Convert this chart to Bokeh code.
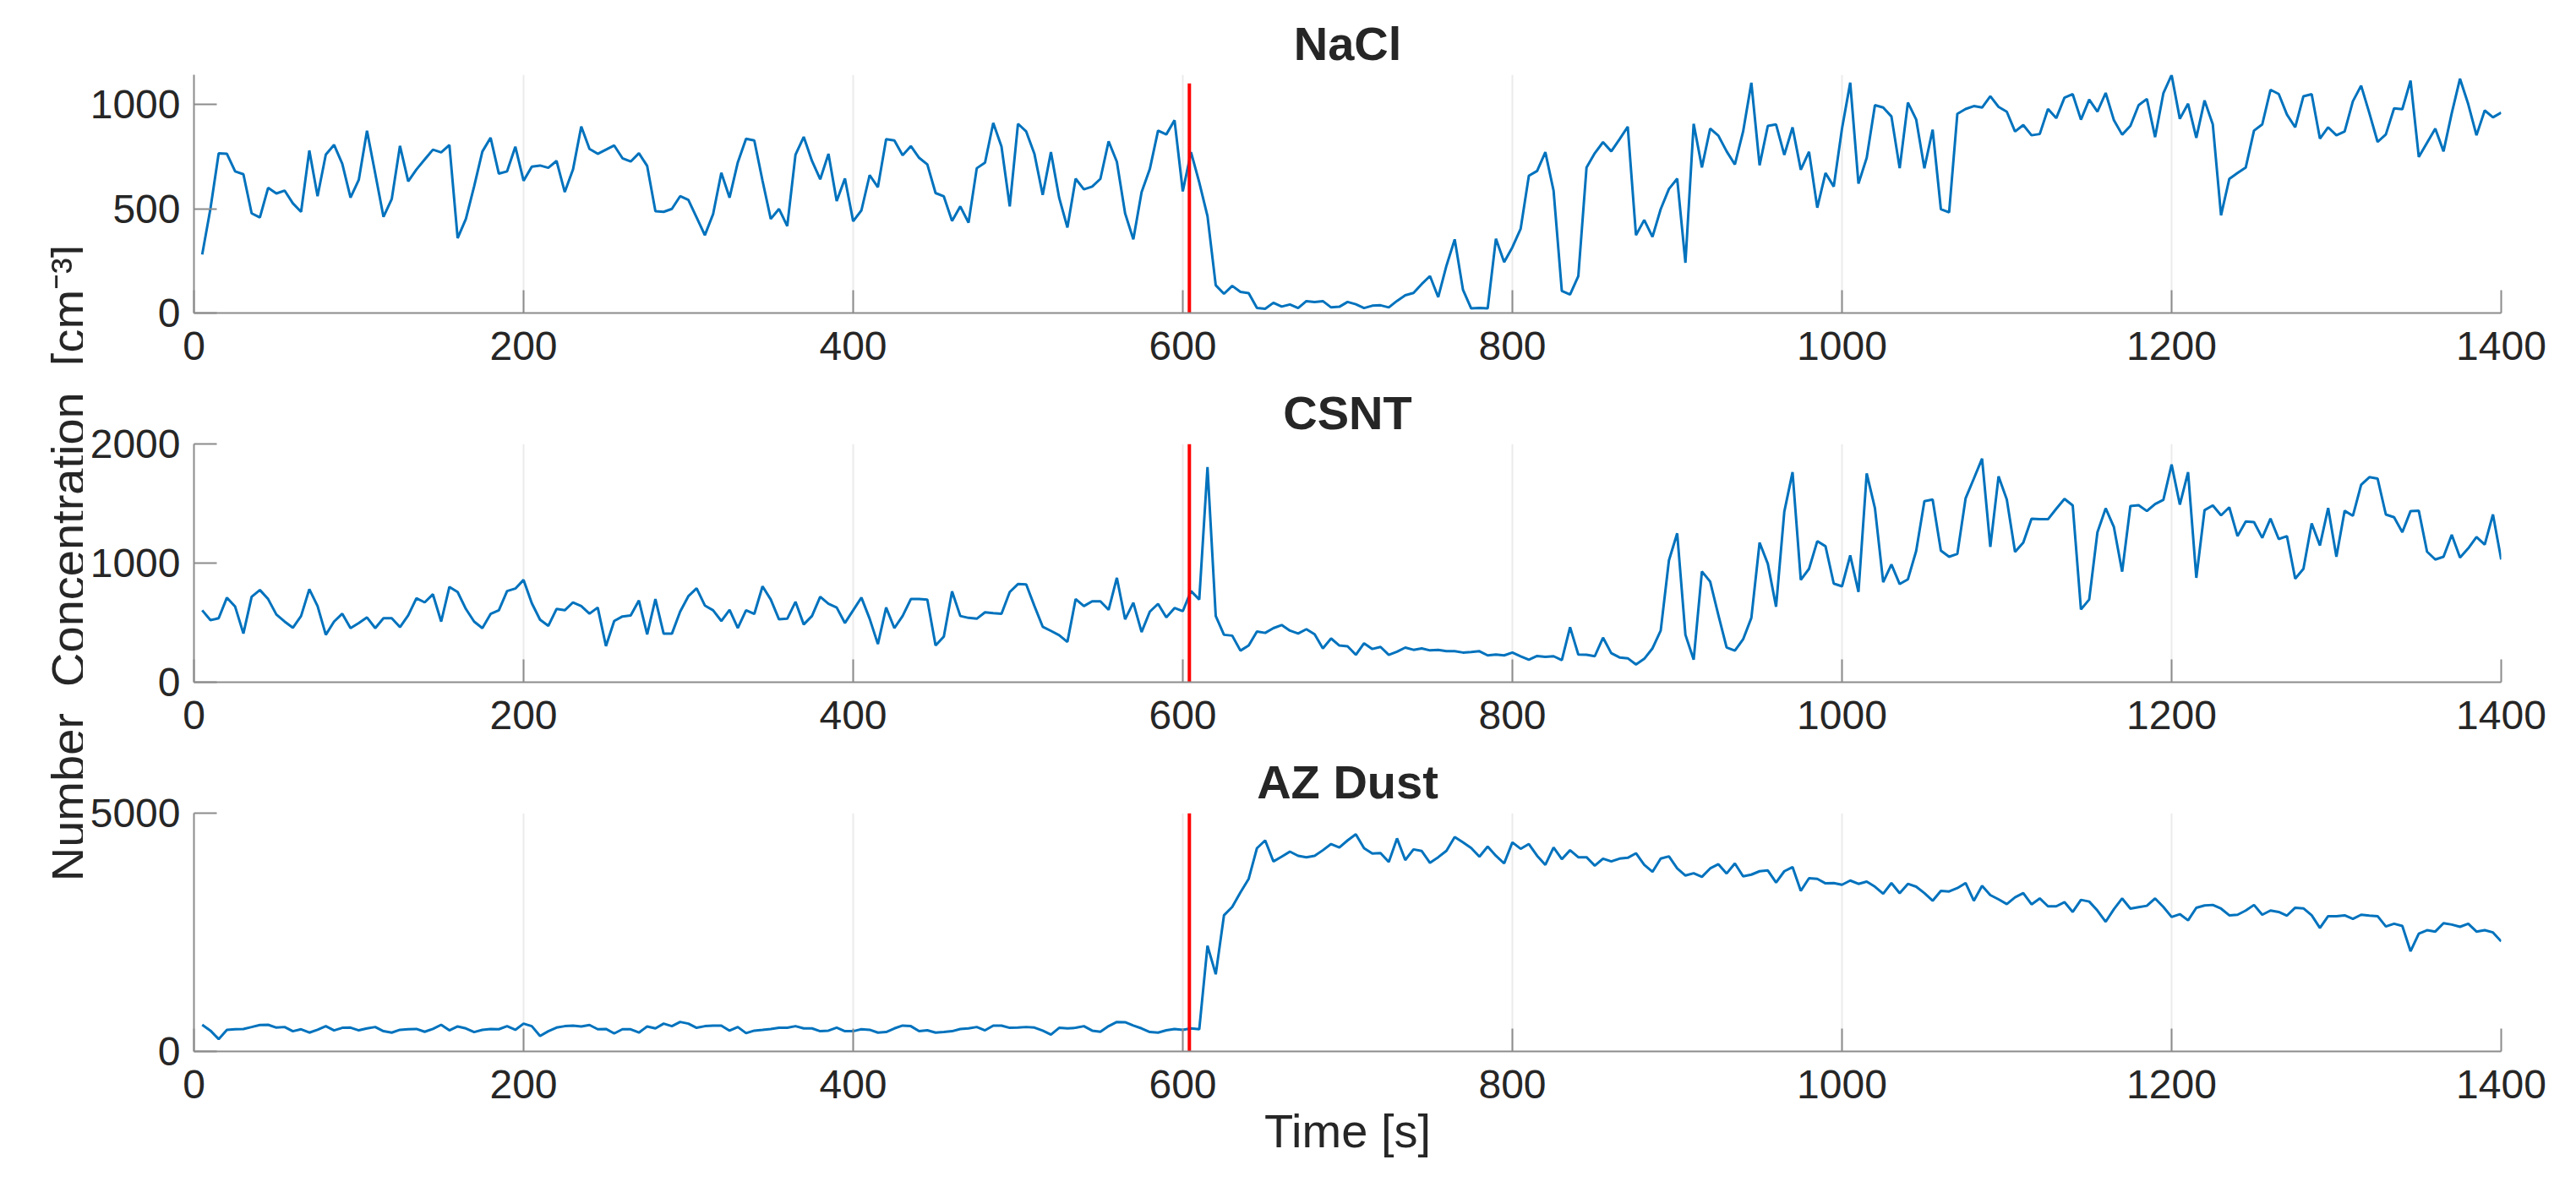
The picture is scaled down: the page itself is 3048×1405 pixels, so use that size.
import math

from bokeh.plotting import figure
from bokeh.layouts import column, row
from bokeh.models import FixedTicker, Range1d, Label
from bokeh.embed import file_html
from bokeh.resources import INLINE

# sampling times [s], one reading every 5 s
time = list(range(5, 1405, 5))

nacl = [
    280, 500, 765, 763, 679, 665, 478, 458, 600, 573,
    587, 526, 485, 779, 560, 759, 806, 715, 553, 638,
    874, 668, 461, 546, 801, 631, 688, 736, 783, 770,
    805, 359, 451, 607, 774, 840, 668, 679, 797, 634,
    702, 707, 696, 729, 580, 688, 894, 787, 763, 783,
    803, 742, 726, 766, 705, 488, 485, 499, 560, 542,
    458, 373, 474, 672, 553, 722, 835, 827, 634, 451,
    499, 417, 759, 844, 729, 641, 763, 537, 645, 440,
    492, 661, 603, 833, 827, 756, 800, 744, 712, 575,
    559, 441, 511, 433, 694, 721, 911, 798, 511, 907,
    870, 762, 566, 771, 552, 410, 644, 593, 606, 643,
    823, 725, 478, 353, 579, 690, 874, 856, 924, 583,
    771, 626, 464, 133, 92, 130, 101, 95, 24, 20,
    49, 31, 41, 24, 57, 53, 57, 27, 30, 53,
    42, 24, 35, 37, 27, 58, 85, 96, 139, 177,
    76, 227, 353, 112, 22, 24, 22, 356, 244, 315,
    403, 658, 681, 771, 586, 106, 89, 177, 698, 766,
    819, 775, 833, 893, 373, 446, 365, 498, 595, 644,
    241, 907, 698, 884, 850, 775, 712, 870, 1104, 708,
    897, 904, 758, 890, 687, 773, 505, 671, 606, 884,
    1104, 620, 744, 996, 985, 942, 694, 1009, 928, 694,
    879, 498, 482, 955, 978, 992, 985, 1039, 988, 965,
    870, 901, 852, 858, 978, 934, 1032, 1049, 927, 1023,
    965, 1055, 924, 855, 897, 996, 1026, 843, 1053, 1141,
    931, 1003, 840, 1019, 904, 468, 643, 671, 698, 874,
    904, 1070, 1050, 951, 890, 1039, 1049, 836, 890, 852,
    870, 1015, 1090, 958, 820, 856, 981, 977, 1114, 748,
    816, 884, 775, 958, 1123, 1001, 852, 971, 938, 961,
]

csnt = [
    604, 521, 537, 710, 634, 409, 717, 774, 698, 568,
    509, 457, 556, 781, 639, 398, 509, 575, 454, 497,
    544, 454, 537, 537, 462, 561, 705, 670, 738, 509,
    800, 757, 615, 509, 454, 573, 604, 765, 786, 859,
    663, 525, 473, 615, 604, 670, 639, 575, 627, 303,
    514, 552, 561, 686, 402, 698, 407, 407, 592, 722,
    788, 644, 604, 514, 608, 454, 604, 573, 805, 694,
    528, 533, 675, 485, 556, 717, 658, 627, 497, 604,
    710, 533, 320, 627, 454, 556, 698, 698, 694, 308,
    383, 762, 556, 540, 533, 587, 580, 575, 757, 824,
    821, 639, 466, 431, 395, 338, 698, 639, 679, 679,
    608, 876, 528, 667, 421, 592, 658, 544, 623, 596,
    765, 694, 1806, 556, 398, 391, 265, 308, 426, 414,
    454, 480, 433, 409, 445, 402, 284, 367, 308, 301,
    230, 327, 279, 296, 230, 256, 291, 272, 284, 267,
    272, 260, 260, 249, 253, 260, 225, 232, 225, 249,
    218, 189, 220, 213, 218, 185, 462, 232, 230, 218,
    374, 244, 208, 201, 149, 196, 284, 433, 1023, 1250,
    398, 189, 930, 845, 563, 291, 265, 360, 540, 1172,
    994, 634, 1432, 1763, 859, 952, 1184, 1141, 828, 805,
    1065, 757, 1752, 1460, 840, 989, 824, 864, 1101, 1520,
    1534, 1105, 1053, 1077, 1543, 1709, 1877, 1136, 1728, 1534,
    1094, 1172, 1373, 1368, 1368, 1456, 1539, 1484, 611, 694,
    1259, 1460, 1302, 928, 1479, 1486, 1437, 1496, 1531, 1827,
    1491, 1763, 876, 1444, 1484, 1401, 1468, 1226, 1349, 1344,
    1212, 1373, 1202, 1226, 869, 952, 1333, 1148, 1463, 1053,
    1439, 1397, 1657, 1721, 1709, 1408, 1385, 1259, 1437, 1439,
    1096, 1030, 1053, 1238, 1046, 1124, 1219, 1155, 1408, 1030,
]

az_dust = [
    559, 436, 259, 453, 465, 471, 512, 554, 559, 500,
    512, 424, 465, 395, 453, 530, 442, 495, 500, 442,
    483, 512, 424, 395, 453, 465, 471, 412, 471, 559,
    442, 524, 483, 406, 453, 471, 465, 530, 453, 583,
    530, 324, 424, 500, 530, 542, 524, 554, 465, 471,
    377, 465, 465, 395, 524, 483, 583, 530, 618, 583,
    495, 530, 542, 542, 436, 512, 383, 436, 453, 471,
    495, 495, 530, 483, 483, 424, 436, 500, 424, 424,
    465, 453, 395, 406, 483, 542, 530, 424, 442, 395,
    406, 424, 471, 483, 512, 442, 542, 542, 495, 500,
    512, 500, 436, 353, 495, 483, 495, 530, 436, 412,
    530, 618, 612, 542, 483, 406, 395, 442, 471, 453,
    483, 465, 2220, 1619, 2856, 3033, 3339, 3622, 4264, 4428,
    3987, 4087, 4193, 4105, 4075, 4105, 4222, 4352, 4281, 4428,
    4558, 4264, 4152, 4163, 3975, 4470, 4016, 4240, 4205, 3957,
    4075, 4211, 4499, 4387, 4269, 4087, 4299, 4105, 3946, 4387,
    4252, 4352, 4105, 3916, 4281, 4034, 4222, 4075, 4075, 3898,
    4046, 3987, 4046, 4063, 4158, 3916, 3769, 4046, 4093, 3840,
    3692, 3739, 3663, 3840, 3928, 3734, 3946, 3675, 3710, 3781,
    3798, 3545, 3781, 3869, 3368, 3634, 3622, 3527, 3533, 3498,
    3586, 3516, 3563, 3457, 3310, 3533, 3321, 3516, 3457, 3321,
    3162, 3368, 3357, 3427, 3533, 3162, 3474, 3280, 3192, 3092,
    3233, 3321, 3086, 3210, 3045, 3045, 3133, 2927, 3180, 3145,
    2956, 2721, 2986, 3210, 2997, 3027, 3056, 3210, 3033, 2821,
    2880, 2750, 3015, 3062, 3074, 2997, 2856, 2868, 2956, 3074,
    2868, 2956, 2927, 2850, 3015, 3003, 2856, 2591, 2838, 2838,
    2856, 2780, 2868, 2850, 2838, 2621, 2680, 2632, 2102, 2473,
    2544, 2515, 2691, 2662, 2615, 2680, 2515, 2544, 2497, 2308,
]

titles = ["NaCl", "CSNT", "AZ Dust"]
series = [nacl, csnt, az_dust]
y_max = [1142, 2000, 5000]
y_ticks = [[0, 500, 1000], [0, 1000, 2000], [0, 5000]]
x_ticks = [0, 200, 400, 600, 800, 1000, 1200, 1400]

# particle injection marker
inject_time = 604
inject_top = [1100, 2000, 5000]

y_label = "Number\u00a0 Concentration\u00a0 [cm\u207b\u00b3]"

FONT = "Liberation Sans"
TXT = "#262626"
AX = "#8c8c8c"

LABEL_W = 98
TOPS = [88, 80, 80]
BOTTOMS = [75, 75, 130]
FRAME_H = 282


def make_panel(i):
    p = figure(frame_width=2730, frame_height=FRAME_H,
               x_range=Range1d(0, 1400), y_range=Range1d(0, y_max[i]),
               min_border_left=229 - LABEL_W, min_border_right=70,
               min_border_top=TOPS[i], min_border_bottom=BOTTOMS[i],
               output_backend="svg", toolbar_location=None, tools="")
    p.outline_line_color = None
    p.background_fill_color = "white"
    p.border_fill_color = "white"

    p.title.text = titles[i]
    p.title.align = "center"
    p.title.text_font = FONT
    p.title.text_font_size = "56px"
    p.title.text_font_style = "bold"
    p.title.text_color = TXT
    p.title.standoff = 12

    p.xaxis.ticker = FixedTicker(ticks=x_ticks)
    p.yaxis.ticker = FixedTicker(ticks=y_ticks[i])
    for ax in (p.xaxis[0], p.yaxis[0]):
        ax.axis_line_color = AX
        ax.axis_line_width = 2
        ax.major_tick_line_color = AX
        ax.major_tick_line_width = 2
        ax.major_tick_in = 27
        ax.major_tick_out = 0
        ax.minor_tick_line_color = None
        ax.major_label_text_font = FONT
        ax.major_label_text_font_size = "48px"
        ax.major_label_text_color = TXT
        ax.axis_label_text_font = FONT
        ax.axis_label_text_font_size = "56px"
        ax.axis_label_text_font_style = "normal"
        ax.axis_label_text_color = TXT
    p.xaxis.major_label_standoff = 22
    p.yaxis.major_label_standoff = 16

    p.xgrid.ticker = FixedTicker(ticks=x_ticks)
    p.xgrid.grid_line_color = "#ebebeb"
    p.xgrid.grid_line_width = 2
    p.ygrid.grid_line_color = None

    if i == len(titles) - 1:
        p.xaxis.axis_label = "Time [s]"
        p.xaxis.axis_label_standoff = 4

    p.line(time, series[i], line_color="#0072BD", line_width=3)
    p.line([inject_time, inject_time], [0, inject_top[i]], line_color="#ff0000", line_width=4)
    return p


panels = [make_panel(i) for i in range(len(titles))]

# shared y label, drawn in its own strip so it can span all three panels
total_h = sum(TOPS) + sum(BOTTOMS) + 3 * FRAME_H
mid_from_top = TOPS[0] + FRAME_H + BOTTOMS[0] + TOPS[1] + FRAME_H / 2
strip = figure(frame_width=LABEL_W, frame_height=total_h,
               x_range=Range1d(0, LABEL_W), y_range=Range1d(0, total_h),
               min_border=0, output_backend="svg", toolbar_location=None, tools="")
strip.axis.visible = False
strip.grid.grid_line_color = None
strip.outline_line_color = None
strip.add_layout(Label(x=80, y=total_h - mid_from_top,
                       text=y_label, angle=math.pi / 2,
                       text_align="center", text_baseline="alphabetic",
                       text_font=FONT, text_font_size="56px", text_color=TXT))

layout = row(strip, column(*panels))

open("out.html", "w").write(file_html(layout, INLINE))
